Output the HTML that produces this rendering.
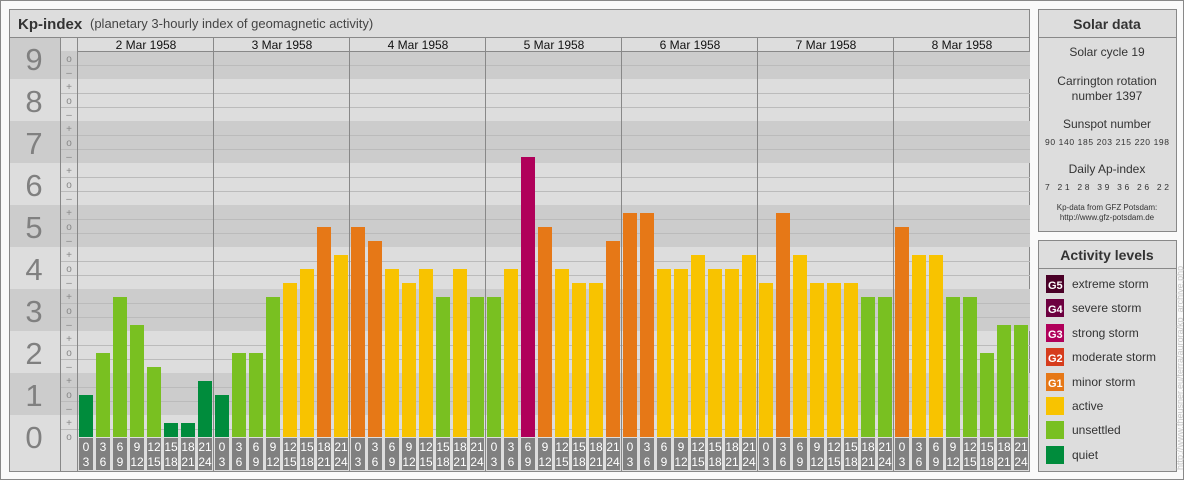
<!DOCTYPE html>
<html><head><meta charset="utf-8"><style>
html,body{margin:0;padding:0;background:#fff;}
svg{display:block;font-family:"Liberation Sans",sans-serif;}
</style></head><body>
<svg width="1184" height="480" viewBox="0 0 1184 480" xmlns="http://www.w3.org/2000/svg">
<rect x="0.5" y="0.5" width="1183" height="479" fill="#fafafa" stroke="#888"/>
<rect x="9.5" y="9.5" width="1020" height="462" fill="#dddddd" stroke="#888"/>
<line x1="9" y1="37.5" x2="1030" y2="37.5" stroke="#888"/>
<text x="18" y="29" font-size="15" font-weight="bold" fill="#333">Kp-index</text>
<text x="90" y="28" font-size="13" fill="#444">(planetary 3-hourly index of geomagnetic activity)</text>
<g id="bands">
<rect x="10" y="51" width="1020" height="28" fill="#cccccc"/>
<rect x="10" y="121" width="1020" height="42" fill="#cccccc"/>
<rect x="10" y="205" width="1020" height="42" fill="#cccccc"/>
<rect x="10" y="289" width="1020" height="42" fill="#cccccc"/>
<rect x="10" y="373" width="1020" height="42" fill="#cccccc"/>
<rect x="10" y="38" width="50" height="13" fill="#cccccc"/>
</g>
<g stroke="#bbbbbb" stroke-width="1">
<path d="M60 65.5H1030M60 93.5H1030M60 107.5H1030M60 135.5H1030M60 149.5H1030M60 177.5H1030M60 191.5H1030M60 219.5H1030M60 233.5H1030M60 261.5H1030M60 275.5H1030M60 303.5H1030M60 317.5H1030M60 345.5H1030M60 359.5H1030M60 387.5H1030M60 401.5H1030M60 429.5H1030"/>
</g>
<g stroke="#888" stroke-width="1">
<line x1="60.5" y1="38" x2="60.5" y2="471"/>
<line x1="77.5" y1="38" x2="77.5" y2="471"/>
<line x1="77" y1="51.5" x2="1030" y2="51.5"/>
<line x1="213.5" y1="38" x2="213.5" y2="471"/>
<line x1="349.5" y1="38" x2="349.5" y2="471"/>
<line x1="485.5" y1="38" x2="485.5" y2="471"/>
<line x1="621.5" y1="38" x2="621.5" y2="471"/>
<line x1="757.5" y1="38" x2="757.5" y2="471"/>
<line x1="893.5" y1="38" x2="893.5" y2="471"/>
</g>
<g font-size="12" fill="#111" text-anchor="middle">
<text x="146" y="49">2 Mar 1958</text><text x="282" y="49">3 Mar 1958</text><text x="418" y="49">4 Mar 1958</text><text x="554" y="49">5 Mar 1958</text><text x="690" y="49">6 Mar 1958</text><text x="826" y="49">7 Mar 1958</text><text x="962" y="49">8 Mar 1958</text>
</g>
<g font-size="31" fill="#808080" text-anchor="middle">
<text x="34" y="70">9</text><text x="34" y="112">8</text><text x="34" y="154">7</text><text x="34" y="196">6</text><text x="34" y="238">5</text><text x="34" y="280">4</text><text x="34" y="322">3</text><text x="34" y="364">2</text><text x="34" y="406">1</text><text x="34" y="448">0</text>
</g>
<g font-size="10" fill="#888" text-anchor="middle" id="ticks"></g>
<g id="bars"></g>
<g id="hours" font-size="12" fill="#fff" text-anchor="middle"></g>

<rect x="1038.5" y="9.5" width="138" height="222" fill="#dddddd" stroke="#888"/>
<line x1="1038" y1="37.5" x2="1177" y2="37.5" stroke="#888"/>
<g text-anchor="middle" fill="#333">
<text x="1107" y="29" font-size="14" font-weight="bold">Solar data</text>
<text x="1107" y="56" font-size="12">Solar cycle 19</text>
<text x="1107" y="85" font-size="12">Carrington rotation</text>
<text x="1107" y="100" font-size="12">number 1397</text>
<text x="1107" y="128" font-size="12">Sunspot number</text>
<text x="1107" y="145" font-size="8.5" textLength="124" lengthAdjust="spacing">90 140 185 203 215 220 198</text>
<text x="1107" y="173" font-size="12">Daily Ap-index</text>
<text x="1107" y="190" font-size="8.5" textLength="124" lengthAdjust="spacing">7 21 28 39 36 26 22</text>
<text x="1107" y="210" font-size="8">Kp-data from GFZ Potsdam:</text>
<text x="1107" y="220" font-size="8">http://www.gfz-potsdam.de</text>
</g>
<rect x="1038.5" y="240.5" width="138" height="231" fill="#dddddd" stroke="#888"/>
<line x1="1038" y1="268.5" x2="1177" y2="268.5" stroke="#888"/>
<text x="1107" y="260" font-size="14" font-weight="bold" fill="#333" text-anchor="middle">Activity levels</text>
<g font-size="12" fill="#333">
<rect x="1046" y="275" width="18" height="18" fill="#4a0027"/><text x="1048" y="289" fill="#fff" font-weight="bold" font-size="11">G5</text><text x="1072" y="288">extreme storm</text>
<rect x="1046" y="299" width="18" height="18" fill="#6d0040"/><text x="1048" y="313" fill="#fff" font-weight="bold" font-size="11">G4</text><text x="1072" y="312">severe storm</text>
<rect x="1046" y="324" width="18" height="18" fill="#b0005a"/><text x="1048" y="338" fill="#fff" font-weight="bold" font-size="11">G3</text><text x="1072" y="337">strong storm</text>
<rect x="1046" y="348" width="18" height="18" fill="#d63c1c"/><text x="1048" y="362" fill="#fff" font-weight="bold" font-size="11">G2</text><text x="1072" y="361">moderate storm</text>
<rect x="1046" y="373" width="18" height="18" fill="#e67817"/><text x="1048" y="387" fill="#fff" font-weight="bold" font-size="11">G1</text><text x="1072" y="386">minor storm</text>
<rect x="1046" y="397" width="18" height="18" fill="#f8c300"/><text x="1072" y="410">active</text>
<rect x="1046" y="421" width="18" height="18" fill="#79c021"/><text x="1072" y="434">unsettled</text>
<rect x="1046" y="446" width="18" height="18" fill="#008c3c"/><text x="1072" y="459">quiet</text>
</g>
<text transform="translate(1183,470) rotate(-90)" font-size="9" fill="#c8c8c8">http://www.theusner.eu/terra/aurora/kp_archive.php</text>

<script>
var ns="http://www.w3.org/2000/svg";
function el(p,t,a,txt){var e=document.createElementNS(ns,t);for(var k in a)e.setAttribute(k,a[k]);if(txt!==undefined)e.textContent=txt;document.getElementById(p).appendChild(e);}
for(var v=0;v<=9;v++){var y=437-42*v;
 el("ticks","text",{x:69,y:y+3},"o");
 if(v>0)el("ticks","text",{x:69,y:y+17},"\u2013");
 if(v<9)el("ticks","text",{x:69,y:y-11},"+");}
var d=[3,6,10,8,5,1,1,4, 3,6,6,10,11,12,15,13, 15,14,12,11,12,10,12,10, 10,12,20,15,12,11,11,14, 16,16,12,12,13,12,12,13, 11,16,13,11,11,11,10,10, 15,13,13,10,10,6,8,8];
function col(t){if(t<=4)return"#008c3c";if(t<=10)return"#79c021";if(t<=13)return"#f8c300";if(t<=16)return"#e67817";if(t<=19)return"#d63c1c";if(t<=22)return"#b0005a";if(t<=25)return"#6d0040";return"#4a0027";}
var hs=[["0","3"],["3","6"],["6","9"],["9","12"],["12","15"],["15","18"],["18","21"],["21","24"]];
for(var i=0;i<56;i++){var x=79+17*i;var h=d[i]*14;
 el("bars","rect",{x:x,y:437-h,width:14,height:h,fill:col(d[i])});
 el("hours","rect",{x:x,y:438,width:14,height:32,fill:"#808080"});
 el("hours","text",{x:x+7,y:451},hs[i%8][0]);el("hours","text",{x:x+7,y:466},hs[i%8][1]);}
</script>
</svg>
</body></html>
